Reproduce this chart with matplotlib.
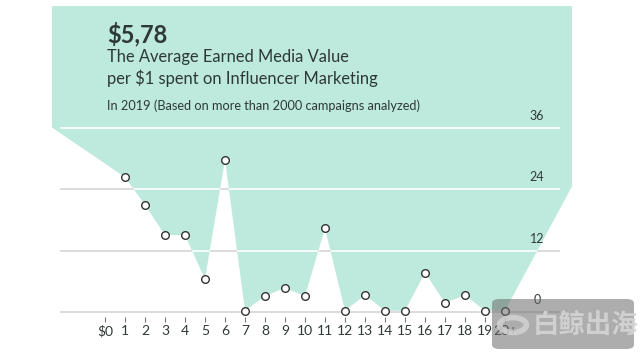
import matplotlib.pyplot as plt
from matplotlib.patches import Polygon, FancyBboxPatch, Circle

# data
x_labels = ['$0'] + [str(i) for i in range(1, 20)] + ['20+']
x_pos = list(range(21))
point_x = list(range(1, 21))
emv = [26.3, 20.9, 15.0, 15.0, 6.4, 29.7, 0.25, 3.1, 4.7, 3.1,
       16.3, 0.25, 3.3, 0.25, 0.25, 7.7, 1.75, 3.3, 0.25, 0.25]
grid_vals = [0, 12, 24, 36]

# decoration shape around the series
left_x, left_y = -2.65, 36.0
right_x, right_y = 23.35, 24.5
top_y = 59.7

teal = '#bdeadc'
dark = '#2f3838'
plt.rcParams['font.family'] = ['Lato', 'DejaVu Sans']

fig = plt.figure(figsize=(6.4, 3.55), dpi=100)
ax = fig.add_axes([0, 0, 1, 1])
ax.set_xlim(-5.25, 26.75)
ax.set_ylim(-8.39, 60.88)
for s in ax.spines.values():
    s.set_visible(False)
ax.spines['bottom'].set_position(('data', -0.95))
ax.set_yticks([])
ax.set_xticks(x_pos)
ax.set_xticklabels(x_labels, fontsize=10, color=dark)
ax.tick_params(axis='x', direction='out', length=3.5, width=0.8, color='#777777', pad=2.5)

# teal background shape
verts = [(left_x, top_y), (left_x, left_y)] + list(zip(point_x, emv)) + \
        [(right_x, right_y), (right_x, top_y)]
poly = Polygon(verts, closed=True, facecolor=teal, edgecolor='none', zorder=1)
ax.add_patch(poly)

# grid: grey on white, white on teal
ax.hlines(grid_vals, -2.25, 22.75, color='#d6d6d6', lw=1.2, zorder=0.5)
wl = ax.hlines(grid_vals, -2.25, 22.75, color='white', lw=1.2, zorder=2)
wl.set_clip_path(poly)

for v in grid_vals:
    ax.annotate(str(v), (21.6, v), xytext=(0, 4), textcoords='offset points',
                ha='center', va='bottom', fontsize=9, color=dark, zorder=3)

ax.plot(point_x, emv, 'o', ms=5.5, mfc='white', mec='#333333', mew=1.0, zorder=4)

fig.text(107 / 640, 1 - 42 / 355, '$5,78', fontsize=17, fontweight='bold',
         color=dark, va='baseline')
fig.text(107 / 640, 1 - 62 / 355, 'The Average Earned Media Value',
         fontsize=11.9, color=dark, va='baseline')
fig.text(107 / 640, 1 - 84 / 355, 'per $1 spent on Influencer Marketing',
         fontsize=11.9, color=dark, va='baseline')
fig.text(107 / 640, 1 - 110 / 355, 'In 2019 (Based on more than 2000 campaigns analyzed)',
         fontsize=9.2, color=dark, va='baseline')

# watermark
wm = FancyBboxPatch((492 / 640, 1 - 349 / 355), 142 / 640, 50 / 355,
                    boxstyle='round,pad=0,rounding_size=0.012',
                    transform=fig.transFigure, facecolor='#6a6a6a', alpha=0.55,
                    edgecolor='none', zorder=10)
fig.patches.append(wm)
logo = Circle((513 / 640, 1 - 325 / 355), 0.021, transform=fig.transFigure,
              facecolor='none', edgecolor='#d4d4d4', lw=4, alpha=0.8, zorder=11)
fig.patches.append(logo)
fig.text(585 / 640, 1 - 325 / 355, '白鲸出海', fontsize=19, fontweight='bold',
         color='#d4d4d4', alpha=0.9, ha='center', va='center', zorder=12,
         family=['Noto Sans CJK SC', 'DejaVu Sans'])

fig.savefig('out.png', dpi=100)
